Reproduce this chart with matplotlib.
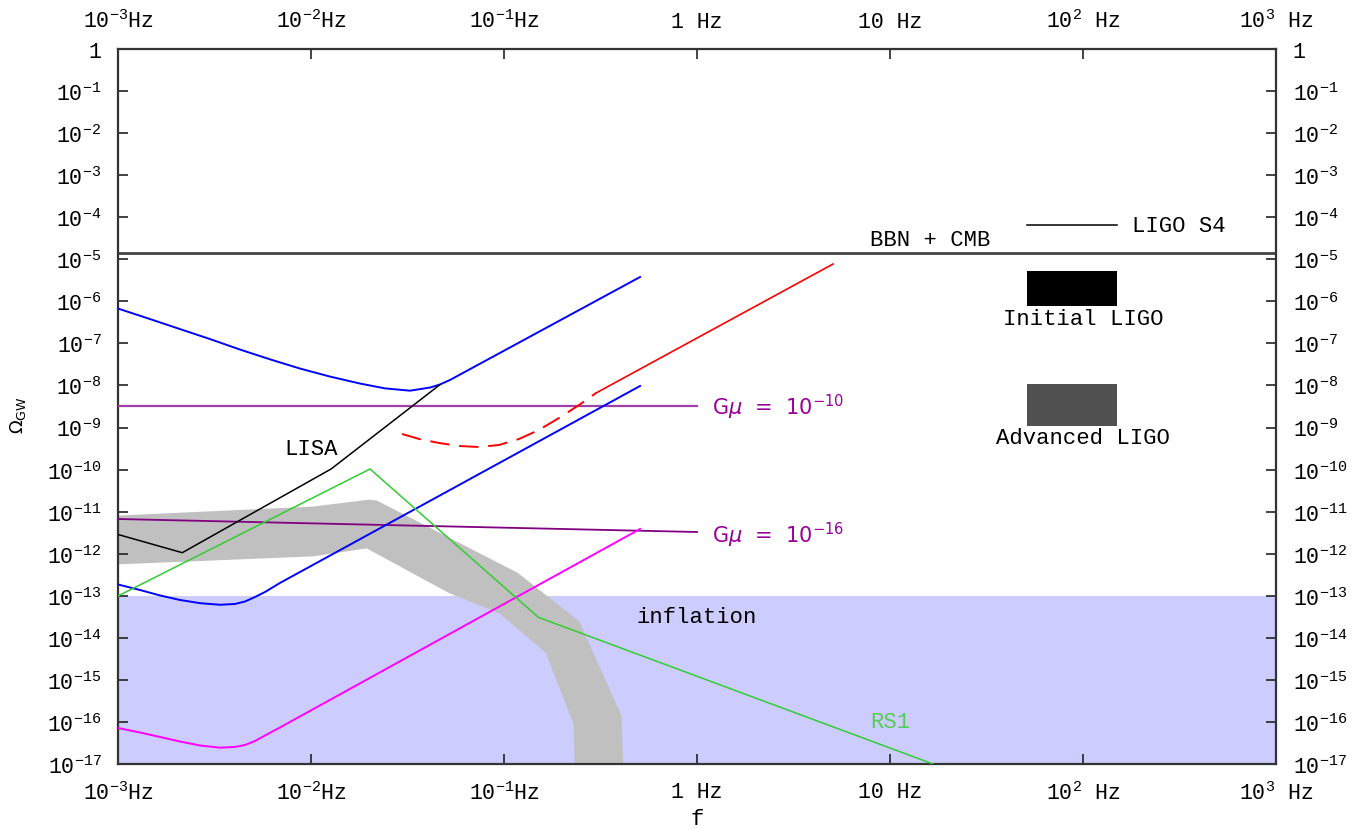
import numpy as np
import matplotlib
matplotlib.use("Agg")
import matplotlib.pyplot as plt
from matplotlib.patches import Rectangle, Polygon

plt.rcParams['font.family'] = ['Liberation Mono', 'DejaVu Sans']
plt.rcParams['mathtext.fontset'] = 'custom'
plt.rcParams['mathtext.rm'] = 'Liberation Mono'
plt.rcParams['mathtext.it'] = 'Liberation Mono:italic'
plt.rcParams['mathtext.bf'] = 'Liberation Mono:bold'

# ---- data (log10 values) ----
# upper blue sensitivity curve
blue_hi_lf = [-3.000, -2.834, -2.679, -2.523, -2.368, -2.212, -2.057, -1.902, -1.746,
              -1.617, -1.487, -1.383, -1.332, -1.280, -0.295]
blue_hi_lo = [-6.171, -6.421, -6.659, -6.897, -7.146, -7.379, -7.598, -7.788, -7.954,
              -8.069, -8.124, -8.049, -7.977, -7.870, -5.421]
# lower blue curve
blue_lo_lf = [-3.000, -2.886, -2.782, -2.679, -2.575, -2.472, -2.394, -2.342, -2.290,
              -2.238, -2.161, -0.295]
blue_lo_lo = [-12.732, -12.863, -12.993, -13.100, -13.176, -13.214, -13.195, -13.136,
              -13.029, -12.910, -12.696, -8.012]
# magenta curve
mag_lf = [-3.000, -2.886, -2.782, -2.679, -2.575, -2.472, -2.394, -2.342, -2.290,
          -2.238, -2.161, -0.295]
mag_lo = [-16.144, -16.251, -16.358, -16.465, -16.560, -16.612, -16.595, -16.548,
          -16.453, -16.322, -16.132, -11.412]
# LISA (black)
lisa_lf = [-3.000, -2.667, -1.896, -1.332]
lisa_lo = [-11.543, -11.976, -9.986, -7.981]
# RS1 (green)
rs1_lf = [-3.000, -1.694, -0.822, 1.223]
rs1_lo = [-13.005, -9.986, -13.512, -17.000]
# red curve: dashed part then solid part
red_dash_lf = [-1.528, -1.440, -1.337, -1.233, -1.130, -1.026, -0.922, -0.819, -0.715,
               -0.611, -0.523]
red_dash_lo = [-9.153, -9.272, -9.367, -9.439, -9.463, -9.415, -9.272, -9.058, -8.773,
               -8.464, -8.179]
red_solid_lf = [-0.523, 0.705]
red_solid_lo = [-8.179, -5.112]
# cosmic strings G mu lines
gmu10_lf = [-3.0, 0.0]
gmu10_lo = [-8.488, -8.488]
gmu16_lf = [-3.0, 0.0]
gmu16_lo = [-11.175, -11.484]
# grey band: upper edge left->right, lower edge right->left
band_up_lf = [-3.000, -1.990, -1.720, -1.694, -1.660, -0.933, -0.617, -0.399, -0.389]
band_up_lo = [-11.127, -10.913, -10.760, -10.747, -10.770, -12.482, -13.623, -15.858, -17.000]
band_dn_lf = [-0.627, -0.632, -0.777, -1.021, -1.280, -1.710, -1.990, -3.000]
band_dn_lo = [-17.000, -16.049, -14.337, -13.386, -12.910, -11.840, -12.030, -12.221]
# BBN + CMB bound, inflation ceiling
bbn_lo = -4.85
infl_lo = -13.0

xticks_exp = [-3, -2, -1, 0, 1, 2, 3]
xtick_labels = [r'$10^{-3}$Hz', r'$10^{-2}$Hz', r'$10^{-1}$Hz', '1 Hz', '10 Hz',
                r'$10^{2}$ Hz', r'$10^{3}$ Hz']
yticks_exp = list(range(0, -18, -1))
ytick_labels = ['1'] + [r'$10^{%d}$' % e for e in yticks_exp[1:]]


def P(a):
    return 10.0 ** np.array(a)


fig = plt.figure(figsize=(13.64, 8.29), dpi=100)
ax = fig.add_axes([118 / 1364, 64 / 829, 1158 / 1364, 715 / 829])
ax.set_xscale('log')
ax.set_yscale('log')
ax.set_xlim(1e-3, 1e3)
ax.set_ylim(1e-17, 1)

# inflation region
ax.axhspan(1e-17, 10 ** infl_lo, color='#ccccff', lw=0, zorder=0)

# grey band
band = np.column_stack([P(band_up_lf + band_dn_lf), P(band_up_lo + band_dn_lo)])
ax.add_patch(Polygon(band, closed=True, facecolor='#c0c0c0', edgecolor='#c0c0c0',
                     lw=2, joinstyle='round', zorder=1))

ax.axhline(10 ** bbn_lo, color='#444444', lw=2, zorder=2)

ax.plot(P(gmu10_lf), P(gmu10_lo), color='#a040a8', lw=1.6, zorder=3)
ax.plot(P(gmu16_lf), P(gmu16_lo), color='#800080', lw=1.3, zorder=3)
ax.plot(P(blue_hi_lf), P(blue_hi_lo), color='#0000ff', lw=1.4, zorder=4)
ax.plot(P(blue_lo_lf), P(blue_lo_lo), color='#0000ff', lw=1.4, zorder=4)
ax.plot(P(mag_lf), P(mag_lo), color='#ff00ff', lw=1.4, zorder=4)
ax.plot(P(lisa_lf), P(lisa_lo), color='black', lw=1.1, zorder=4)
ax.plot(P(rs1_lf), P(rs1_lo), color='#33cc33', lw=1.1, zorder=4)
ax.plot(P(red_dash_lf), P(red_dash_lo), color='#ff0000', lw=1.4, ls=(0, (10, 5)), zorder=4)
ax.plot(P(red_solid_lf), P(red_solid_lo), color='#ff0000', lw=1.2, zorder=4)

# labels on the plot
fs = 16
ax.text(16.1, 2.9e-5, 'BBN + CMB', fontsize=fs, ha='center', va='center')
ax.text(1e-2, 3.1e-10, 'LISA', fontsize=fs, ha='center', va='center')
ax.text(1.0, 3.3e-14, 'inflation', fontsize=fs, ha='center', va='center')
ax.text(10.0, 1.05e-16, 'RS1', fontsize=fs, ha='center', va='center', color='#55cc55')
ax.text(1.2, 10 ** gmu10_lo[1], r'G$\mu$  =  $10^{-10}$', fontsize=15, va='center',
        color='#990099', family='DejaVu Sans', math_fontfamily='dejavusans')
ax.text(1.2, 10 ** gmu16_lo[1] * 0.9, r'G$\mu$  =  $10^{-16}$', fontsize=15, va='center',
        color='#990099', family='DejaVu Sans', math_fontfamily='dejavusans')

# key at right
ax.plot([0.785, 0.8627], [0.7538, 0.7538], color='black', lw=1.1, transform=ax.transAxes)
ax.text(0.8756, 0.7538, 'LIGO S4', fontsize=fs, va='center', transform=ax.transAxes)
ax.add_patch(Rectangle((0.785, 0.6406), 0.0777, 0.0489, facecolor='black',
                       edgecolor='none', transform=ax.transAxes, zorder=5))
ax.text(0.8333, 0.6224, 'Initial LIGO', fontsize=fs, ha='center', va='center',
        transform=ax.transAxes)
ax.add_patch(Rectangle((0.785, 0.4727), 0.0777, 0.0588, facecolor='#505050',
                       edgecolor='none', transform=ax.transAxes, zorder=5))
ax.text(0.8333, 0.4573, 'Advanced LIGO', fontsize=fs, ha='center', va='center',
        transform=ax.transAxes)

# axes, ticks
ax.set_xticks([10.0 ** e for e in xticks_exp])
ax.set_xticklabels(xtick_labels)
ax.set_yticks([10.0 ** e for e in yticks_exp])
ax.set_yticklabels(ytick_labels)
ax.minorticks_off()
ax.tick_params(which='major', direction='in', length=7, width=1.2, color='#222222',
               labelsize=15.5, top=True, right=True, labeltop=True, labelright=True, pad=12)
for s in ax.spines.values():
    s.set_color('#333333')
    s.set_linewidth(1.6)

ax.set_xlabel('f', fontsize=fs)
ax.xaxis.set_label_coords(0.5, -0.062)
ax.set_ylabel(r'$\Omega_{\mathrm{GW}}$', fontsize=13, family='DejaVu Sans',
              math_fontfamily='dejavusans')
ax.yaxis.set_label_coords(-0.078, 0.49)

fig.savefig('out.png', dpi=100)
